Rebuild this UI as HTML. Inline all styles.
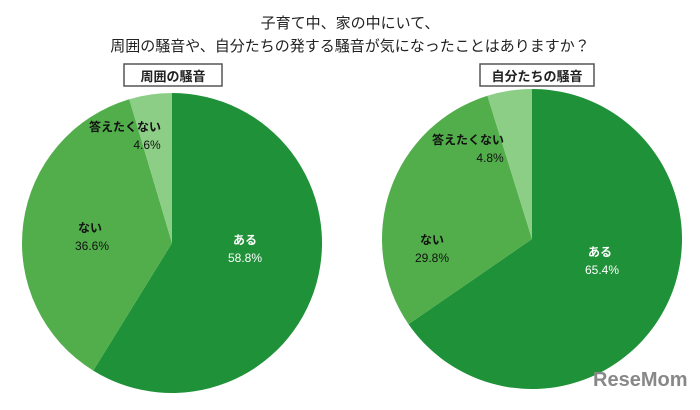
<!DOCTYPE html>
<html><head><meta charset="utf-8"><style>
body{margin:0;background:#fff;}
svg{display:block;font-family:"Liberation Sans","Noto Sans CJK JP",sans-serif;}
</style></head><body>
<svg id="c" width="700" height="410" viewBox="0 0 700 410">
<text x="350" y="28" text-anchor="middle" font-size="15" fill="#222">子育て中、家の中にいて、</text>
<text x="350" y="51" text-anchor="middle" font-size="15" fill="#222">周囲の騒音や、自分たちの発する騒音が気になったことはありますか？</text>
<rect x="124" y="64" width="98" height="22" fill="#fff" stroke="#555" stroke-width="1.5"/>
<text x="173" y="81" text-anchor="middle" font-size="13" font-weight="bold" fill="#222">周囲の騒音</text>
<rect x="480" y="64" width="114" height="22" fill="#fff" stroke="#555" stroke-width="1.5"/>
<text x="537" y="81" text-anchor="middle" font-size="13" font-weight="bold" fill="#222">自分たちの騒音</text>
<g id="p1"></g><g id="p2"></g>
<text x="593" y="386" font-size="20" font-weight="bold" fill="#888">ReseMom</text>
</svg>
<script>
const categories=["ある","ない","答えたくない"];
const pie1Values=[58.8,36.6,4.6];
const pie2Values=[65.4,29.8,4.8];
const colors=["#1f9138","#52ae4a","#8cce86"];
const textColors=["#fff","#111","#111"];
const pie1LabelPos=[[245,244,245,262],[90,232,92,250],[125,131,147,149]];
const pie2LabelPos=[[600,256,602,274],[432,244,432,262],[468,144,490,162]];
const NS="http://www.w3.org/2000/svg";
function drawPie(gid,vals,cx,cy,r,key,lp){
  const g=document.getElementById(gid);
  const tot=vals.reduce((a,b)=>a+b,0);
  let a0=0;
  vals.forEach((v,i)=>{
    const a1=a0+v/tot*2*Math.PI;
    const x0=cx+r*Math.sin(a0),y0=cy-r*Math.cos(a0),x1=cx+r*Math.sin(a1),y1=cy-r*Math.cos(a1);
    const p=document.createElementNS(NS,"path");
    p.setAttribute("d",`M${cx},${cy}L${x0},${y0}A${r},${r} 0 ${a1-a0>Math.PI?1:0} 1 ${x1},${y1}Z`);
    p.setAttribute("fill",colors[i]);
    
    
    g.appendChild(p);
    [categories[i],v.toFixed(1)+"%"].forEach((s,k)=>{
      const t=document.createElementNS(NS,"text");
      t.setAttribute("x",lp[i][k*2]);t.setAttribute("y",lp[i][k*2+1]);
      t.setAttribute("text-anchor","middle");t.setAttribute("font-size","12");
      if(k==0)t.setAttribute("font-weight","bold");
      t.setAttribute("fill",textColors[i]);t.textContent=s;
      
      
      g.appendChild(t);
    });
    a0=a1;
  });
}
drawPie("p1",pie1Values,172,243,150,"pie1",pie1LabelPos);
drawPie("p2",pie2Values,532,239,150,"pie2",pie2LabelPos);
</script>
</body></html>
